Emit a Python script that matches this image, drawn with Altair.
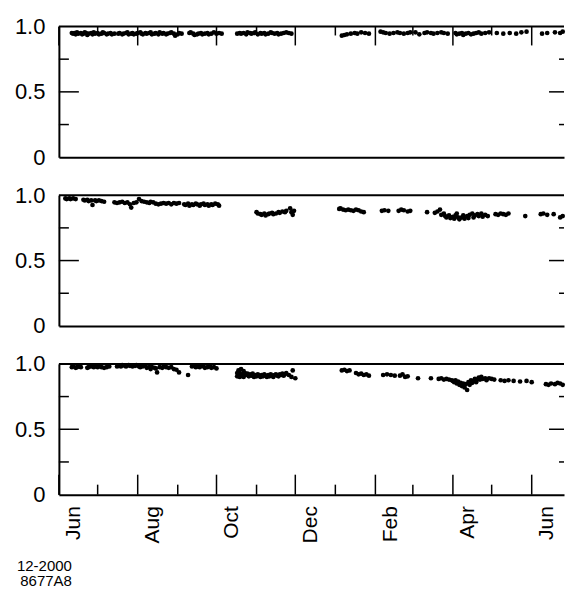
import altair as alt
import pandas as pd

# ---------------- data (day offset from 1 Jun 1999, value) ----------------
START = pd.Timestamp("1999-06-01")

p1_points = [
    (10, .95), (11, .945), (12, .95), (13, .94), (14, .955), (15, .945), (17, .95), (18, .94), (19, .945),
    (20, .955), (21, .95), (22, .935), (23, .945), (25, .95), (26, .94), (27, .955), (28, .945), (30, .95),
    (31, .94), (33, .945), (34, .955), (35, .95), (37, .94), (38, .945), (40, .95), (41, .94), (43, .945),
    (46, .945), (47, .95), (49, .94), (50, .945), (52, .95), (53, .955), (54, .94), (56, .945), (57, .95),
    (58, .94), (60, .945), (61, .95), (63, .955), (64, .945), (65, .94), (67, .95), (68, .945), (70, .95),
    (71, .955), (72, .94), (74, .945), (75, .95), (77, .94), (78, .955), (80, .945), (81, .95), (83, .94),
    (84, .945), (86, .95), (87, .955), (89, .945), (90, .93), (92, .94), (93, .95), (95, .945),
    (101, .95), (102, .955), (104, .945), (105, .935), (107, .94), (108, .945), (110, .95), (111, .94),
    (113, .945), (115, .95), (116, .94), (118, .945), (120, .955), (122, .945), (124, .95), (126, .945),
    (138, .945), (140, .95), (141, .945), (143, .95), (145, .94), (146, .955), (148, .95), (149, .945),
    (151, .95), (152, .955), (154, .94), (156, .95), (157, .945), (159, .95), (160, .94), (162, .945),
    (164, .955), (165, .95), (167, .945), (169, .95), (170, .94), (172, .945), (174, .95), (176, .955),
    (178, .95), (180, .945),
    (219, .93), (221, .935), (223, .94), (226, .945), (229, .95), (231, .945), (234, .955), (237, .95), (240, .945),
    (249, .96), (251, .955), (253, .95), (256, .945), (259, .95), (262, .955), (264, .95), (267, .945), (270, .95), (272, .955),
    (276, .955), (279, .94), (283, .95), (285, .955), (288, .95), (290, .945), (293, .95), (296, .955), (298, .95), (301, .945),
    (307, .95), (308, .94), (310, .945), (312, .95), (313, .935), (315, .945), (317, .95), (319, .94), (321, .945),
    (323, .95), (325, .955), (327, .945), (330, .95), (333, .955),
    (339, .95), (344, .945), (349, .95), (354, .945), (358, .955), (362, .96),
    (374, .945), (378, .95), (384, .955), (388, .95), (390, .96),
]

p2_points = [
    (5, .975), (6, .97), (8, .975), (9, .97), (11, .975), (13, .97),
    (19, .965), (20, .96), (22, .965), (23, .955), (25, .96), (26, .925), (28, .96), (29, .955), (31, .96), (33, .955), (35, .95),
    (43, .945), (45, .94), (47, .945), (49, .95), (51, .94), (53, .945), (55, .93), (56, .905), (58, .94), (60, .945),
    (62, .97), (64, .955), (66, .95), (68, .945), (70, .94), (71, .95), (73, .945), (75, .935), (77, .93), (79, .935),
    (81, .94), (83, .935), (85, .94), (87, .93), (89, .94), (91, .935), (93, .94),
    (97, .93), (98, .925), (100, .935), (101, .92), (103, .93), (104, .925), (106, .935), (107, .93), (109, .92),
    (110, .93), (112, .935), (113, .925), (115, .93), (116, .92), (118, .93), (119, .925), (121, .935), (123, .93), (124, .92),
    (153, .87), (154, .86), (156, .855), (157, .85), (159, .86), (160, .845), (162, .855), (163, .86), (165, .865),
    (166, .855), (168, .86), (170, .87), (171, .865), (173, .875), (175, .87), (176, .88),
    (179, .9), (180, .87), (181, .85), (182, .88),
    (217, .895), (218, .9), (220, .89), (222, .885), (224, .89), (226, .885), (228, .88), (230, .89), (232, .885), (234, .875), (236, .87),
    (250, .88), (252, .885), (255, .88),
    (263, .88), (265, .89), (267, .885), (270, .875), (272, .88),
    (285, .87),
    (291, .865), (293, .875), (295, .89), (296, .85), (298, .86), (299, .84), (300, .83), (302, .845), (303, .825),
    (305, .835), (306, .82), (307, .845), (308, .86), (309, .83), (310, .815), (312, .83), (313, .845), (314, .82),
    (316, .84), (317, .825), (318, .85), (320, .86), (321, .83), (322, .845), (324, .855), (325, .84), (327, .86),
    (328, .835), (330, .85), (332, .84),
    (338, .855), (340, .85), (342, .86), (344, .855), (346, .85), (348, .86),
    (361, .84),
    (373, .855), (375, .86), (378, .85), (383, .855),
    (388, .83), (390, .84),
]

p3_points = [
    (10, .975), (11, .98), (13, .97), (14, .975), (16, .98), (17, .975),
    (22, .97), (23, .975), (25, .98), (27, .975), (28, .98), (30, .975), (32, .98), (33, .975), (35, .97), (37, .975), (39, .98),
    (45, .98), (46, .985), (48, .98), (49, .99), (51, .985), (52, .98), (54, .99), (55, .985), (57, .98), (59, .985),
    (60, .99), (62, .98), (63, .975), (65, .98), (67, .985), (68, .97), (70, .975), (71, .96), (72, .975), (74, .97),
    (75, .965), (76, .935), (78, .975), (80, .97), (81, .98), (83, .975), (85, .97), (87, .975),
    (89, .96), (91, .955), (93, .935),
    (100, .915),
    (103, .98), (104, .985), (106, .975), (107, .98), (109, .975), (110, .985), (112, .98), (113, .97), (115, .975),
    (117, .98), (118, .97), (120, .975), (122, .965),
    (138, .93), (138, .905), (139, .95), (140, .93), (140, .9), (141, .96), (141, .91), (142, .92), (143, .945),
    (143, .9), (144, .93), (145, .915), (146, .925), (147, .905), (148, .92), (149, .91), (150, .925), (151, .9),
    (152, .915), (153, .905), (154, .92), (155, .91), (156, .9), (157, .915), (158, .905), (159, .92), (160, .91),
    (161, .9), (162, .915), (163, .905), (164, .92), (165, .91), (166, .9), (167, .915), (168, .92), (169, .91),
    (170, .905), (171, .92), (172, .915), (173, .925), (174, .91), (175, .92), (176, .93), (178, .915), (180, .9),
    (181, .95), (183, .89),
    (219, .95), (221, .955), (223, .945), (225, .95),
    (230, .93), (232, .92), (234, .925), (236, .915), (238, .92), (240, .91),
    (251, .915), (254, .92), (257, .915), (260, .91),
    (264, .91), (266, .92), (268, .9), (270, .905),
    (278, .89), (288, .89),
    (294, .885), (296, .89), (298, .88), (300, .885), (302, .88), (304, .875),
    (305, .87), (306, .86), (307, .875), (308, .85), (309, .865), (310, .84), (311, .855), (312, .83), (313, .85),
    (314, .82), (315, .845), (316, .8), (317, .86), (318, .84), (319, .875), (320, .855), (321, .87), (322, .885),
    (323, .86), (324, .88),
    (325, .895), (326, .88), (327, .9), (328, .885), (330, .89), (331, .875), (333, .89), (335, .885), (337, .88),
    (342, .875), (345, .87), (348, .875), (352, .87),
    (357, .865), (362, .87), (366, .86),
    (377, .845), (379, .84), (381, .85), (384, .845), (386, .855), (388, .85), (390, .84),
]

month_starts = ["1999-06-01", "1999-07-01", "1999-08-01", "1999-09-01", "1999-10-01", "1999-11-01",
                "1999-12-01", "2000-01-01", "2000-02-01", "2000-03-01", "2000-04-01", "2000-05-01", "2000-06-01"]
month_major = [True, False, True, False, True, False, True, False, True, False, True, False, True]
ytick_vals = [0.25, 0.5, 0.75]
ytick_major = [False, True, False]
ylabel_vals = [0, 0.5, 1.0]
note_lines = ["12-2000", "8677A8"]

# ---------------- layout ----------------
W, H = 506, 131
FONT = "Liberation Sans"

xscale = alt.Scale(domain=[alt.DateTime(year=1999, month=6, date=1),
                           alt.DateTime(year=2000, month=6, date=26)])
yscale = alt.Scale(domain=[0, 1], nice=False)

months = pd.DataFrame({"date": pd.to_datetime(month_starts), "major": month_major})
yt = pd.DataFrame({"v": ytick_vals, "major": ytick_major})
one = pd.DataFrame({"a": [0]})

label_dates = [alt.DateTime(year=1999 if i < 4 else 2000, month=m, date=1)
               for i, m in enumerate([6, 8, 10, 12, 2, 4, 6])]


def to_df(points):
    return pd.DataFrame({
        "date": [START + pd.Timedelta(days=d) for d, _ in points],
        "v": [v for _, v in points],
    })


def panel(points, ticks_where, show_labels):
    if show_labels:
        xaxis = alt.Axis(values=label_dates, format="%b", labelAngle=270, labelAlign="right",
                         labelBaseline="top", labelOffset=4, labelPadding=11, labelFontSize=21,
                         labelFont=FONT, labelColor="black", labelOverlap=False, labelFlush=False,
                         ticks=False, tickSize=0, domain=True, domainColor="black", domainWidth=2,
                         grid=False, title=None)
    else:
        xaxis = alt.Axis(labels=False, ticks=False, tickSize=0, domain=True, domainColor="black",
                         domainWidth=2, grid=False, title=None)
    yaxis = alt.Axis(values=ylabel_vals,
                     labelExpr="datum.value == 0 ? '0' : format(datum.value, '.1f')",
                     ticks=False, tickSize=0, labelPadding=14, labelFontSize=22, labelFont=FONT,
                     labelColor="black", labelFlush=False, domain=True, domainColor="black",
                     domainWidth=2, grid=False, title=None)

    X = lambda: alt.X("date:T", scale=xscale, axis=xaxis)
    Y = lambda: alt.Y("v:Q", scale=yscale, axis=yaxis)

    pts = alt.Chart(to_df(points)).mark_circle(size=22, color="black", opacity=1).encode(x=X(), y=Y())

    top = alt.Chart(one).mark_rule(color="black", strokeWidth=2).encode(
        x=alt.value(0), x2=alt.value(W), y=alt.value(0))

    def yrule(filt, xa, xb):
        return alt.Chart(yt).transform_filter(filt).mark_rule(color="black", strokeWidth=1.5).encode(
            y=Y(), x=alt.value(xa), x2=alt.value(xb))

    layers = [pts, top,
              yrule("datum.major", 0, 20), yrule("!datum.major", 0, 10),
              yrule("datum.major", W - 15, W), yrule("!datum.major", W - 5, W)]

    if ticks_where is not None:
        if ticks_where == "top":
            y0, d_major, d_minor = 0, 19, 9
        else:
            y0, d_major, d_minor = H, H - 20, H - 10

        def xrule(filt, yb):
            return alt.Chart(months).transform_filter(filt).mark_rule(
                color="black", strokeWidth=1.5).encode(x=X(), y=alt.value(y0), y2=alt.value(yb))

        layers += [xrule("datum.major", d_major), xrule("!datum.major", d_minor)]

    if show_labels:
        for i, t in enumerate(note_lines):
            layers.append(
                alt.Chart(pd.DataFrame({"t": [t]})).mark_text(
                    align="right", baseline="middle", fontSize=15, font=FONT, color="black").encode(
                    text="t:N", x=alt.value(13), y=alt.value(H + 71 + 16 * i))
            )

    return alt.layer(*layers).properties(width=W, height=H)


chart = alt.vconcat(
    panel(p1_points, "top", False),
    panel(p2_points, None, False),
    panel(p3_points, "bottom", True),
    spacing=38, bounds="flush",
).properties(
    padding={"left": 14, "top": 15, "right": 0, "bottom": 2},
    background="white",
).configure_view(stroke=None)

chart.save("out.html", embed_options={"renderer": "svg", "actions": False})
